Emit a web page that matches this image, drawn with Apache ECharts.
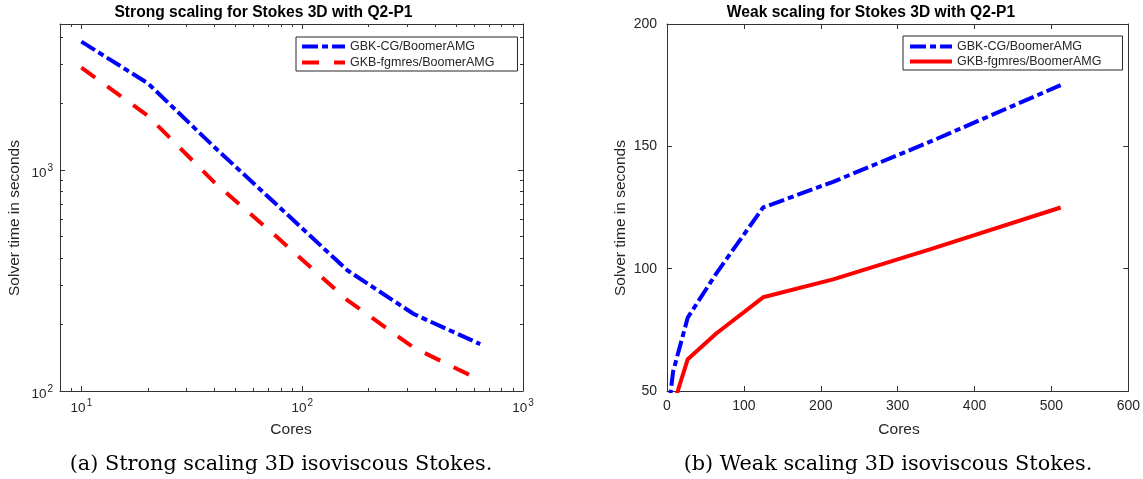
<!DOCTYPE html>
<html><head><meta charset="utf-8">
<script src="https://cdn.jsdelivr.net/npm/echarts@6/dist/echarts.min.js"></script>
<style>html,body{margin:0;padding:0;background:#fff}#c{width:1143px;height:479px}</style>
</head><body><div id="c"></div>
<script>
// ---- data ----
const strongCores = [10, 20, 40, 80, 160, 320, 640];
const strongGbkCg = [3810, 2470, 1270, 670, 352, 223, 163];
const strongGkbFgmres = [2910, 1760, 880, 480, 258, 157, 112];
const weakCores = [1, 8, 27, 64, 125, 216, 343, 512];
const weakGbkCg = [40, 58, 80, 98, 125, 135.5, 152, 175];
const weakGkbFgmres = [30, 44, 63, 73.5, 88.3, 95.6, 108, 125];
// ---- ticks ----
const strongXMajor = [10, 100, 1000];
const strongXMinor = [9, 20, 30, 40, 50, 60, 70, 80, 90, 200, 300, 400, 500, 600, 700, 800, 900];
const strongYMajor = [100, 1000];
const strongYMinor = [200, 300, 400, 500, 600, 700, 800, 900, 2000, 3000, 4000];
// ---- text ----
const seriesNames = ['GBK-CG/BoomerAMG', 'GKB-fgmres/BoomerAMG'];
const titles = ['Strong scaling for Stokes 3D with Q2-P1', 'Weak scaling for Stokes 3D with Q2-P1'];
const xName = 'Cores';
const yName = 'Solver time in seconds';
const captions = ['(a) Strong scaling 3D isoviscous Stokes.', '(b) Weak scaling 3D isoviscous Stokes.'];

const SANS = 'Liberation Sans';
const AX = '#333333';
const TXT = '#262626';
const BLUE = '#0000FF', RED = '#FF0000';
const DASHDOT = [16, 4, 6, 4];
const DASHED = [17, 15];

function logFmt(v) {
  const e = Math.log10(v);
  if (Math.abs(e - Math.round(e)) > 1e-6) return '';
  return '{b|10}{s|' + Math.round(e) + '}';
}
const logRich = {
  b: { fontFamily: SANS, fontSize: 13.5, color: TXT, lineHeight: 14, padding: [6, 0, 0, 0] },
  s: { fontFamily: SANS, fontSize: 10, color: TXT, lineHeight: 10, verticalAlign: 'top', padding: [0, 0, 0, 1] }
};

function axisBase(extra) {
  return Object.assign({
    splitLine: { show: false },
    axisLine: { show: true, onZero: false, lineStyle: { color: AX, width: 1 } },
    axisTick: { show: true, inside: true, length: 5, lineStyle: { color: AX, width: 1 } },
    axisLabel: { show: false },
  }, extra);
}

const grids = [
  { left: 60, top: 24, width: 463, height: 367 },
  { left: 667, top: 24, width: 464, height: 367 }
];

const xAxes = [
  // left plot
  axisBase({ gridIndex: 0, type: 'log', min: 8, max: 1000, position: 'bottom',
    axisTick: { show: true, inside: true, length: 5, customValues: strongXMajor, lineStyle: { color: AX } },
    axisLabel: { show: true, customValues: strongXMajor, formatter: logFmt, rich: logRich, margin: 7 } }),
  axisBase({ gridIndex: 0, type: 'log', min: 8, max: 1000, position: 'bottom',
    axisLine: { show: false },
    axisTick: { show: true, inside: true, length: 3, customValues: strongXMinor, lineStyle: { color: AX } } }),
  axisBase({ gridIndex: 0, type: 'log', min: 8, max: 1000, position: 'top',
    axisTick: { show: true, inside: true, length: 5, customValues: strongXMajor, lineStyle: { color: AX } } }),
  axisBase({ gridIndex: 0, type: 'log', min: 8, max: 1000, position: 'top',
    axisLine: { show: false },
    axisTick: { show: true, inside: true, length: 3, customValues: strongXMinor, lineStyle: { color: AX } } }),
  // right plot
  axisBase({ gridIndex: 1, type: 'value', min: 0, max: 600, interval: 100, position: 'bottom',
    axisLabel: { show: true, fontFamily: SANS, fontSize: 14, color: TXT, margin: 8 } }),
  axisBase({ gridIndex: 1, type: 'value', min: 0, max: 600, interval: 100, position: 'top' })
];

const yAxes = [
  axisBase({ gridIndex: 0, type: 'log', min: 100, max: 4580, position: 'left',
    axisTick: { show: true, inside: true, length: 5, customValues: strongYMajor, lineStyle: { color: AX } },
    axisLabel: { show: true, customValues: strongYMajor, formatter: logFmt, rich: logRich, margin: 7 } }),
  axisBase({ gridIndex: 0, type: 'log', min: 100, max: 4580, position: 'left',
    axisLine: { show: false },
    axisTick: { show: true, inside: true, length: 3, customValues: strongYMinor, lineStyle: { color: AX } } }),
  axisBase({ gridIndex: 0, type: 'log', min: 100, max: 4580, position: 'right',
    axisTick: { show: true, inside: true, length: 5, customValues: strongYMajor, lineStyle: { color: AX } } }),
  axisBase({ gridIndex: 0, type: 'log', min: 100, max: 4580, position: 'right',
    axisLine: { show: false },
    axisTick: { show: true, inside: true, length: 3, customValues: strongYMinor, lineStyle: { color: AX } } }),
  axisBase({ gridIndex: 1, type: 'value', min: 50, max: 200, interval: 50, position: 'left',
    axisLabel: { show: true, fontFamily: SANS, fontSize: 14, color: TXT, margin: 10 } }),
  axisBase({ gridIndex: 1, type: 'value', min: 50, max: 200, interval: 50, position: 'right' })
];

function pairs(xs, ys) { return xs.map((x, i) => [x, ys[i]]); }

function lineSeries(id, name, xi, yi, data, color, dash) {
  return {
    id: id, name: name, type: 'line', xAxisIndex: xi, yAxisIndex: yi,
    data: data, symbol: 'none', showSymbol: false, clip: true, animation: false,
    lineStyle: { color: color, width: 4, type: dash },
    itemStyle: { color: color }
  };
}

const series = [
  lineSeries('s1', 'strong:' + seriesNames[0], 0, 0, pairs(strongCores, strongGbkCg), BLUE, DASHDOT),
  lineSeries('s2', 'strong:' + seriesNames[1], 0, 0, pairs(strongCores, strongGkbFgmres), RED, DASHED),
  lineSeries('w1', 'weak:' + seriesNames[0], 4, 4, pairs(weakCores, weakGbkCg), BLUE, DASHDOT),
  lineSeries('w2', 'weak:' + seriesNames[1], 4, 4, pairs(weakCores, weakGkbFgmres), RED, 'solid')
];

function legend(prefix, left, top, itemWidth, itemGap, padding) {
  return {
    data: seriesNames.map(n => prefix + n),
    formatter: n => n.slice(prefix.length),
    orient: 'vertical', left: left, top: top,
    itemWidth: itemWidth, itemHeight: 14, itemGap: itemGap,
    padding: padding, borderColor: '#262626', borderWidth: 1, backgroundColor: '#fff',
    selectedMode: false,
    itemStyle: { opacity: 0 },
    lineStyle: { width: 4 },
    textStyle: { fontFamily: SANS, fontSize: 12.5, color: TXT }
  };
}

function txt(x, y, text, font, fill, opts) {
  return Object.assign({
    type: 'text', x: x, y: y, silent: true,
    style: { text: text, font: font, fill: fill, textAlign: 'center', textVerticalAlign: 'middle', align: 'center', verticalAlign: 'middle' }
  }, opts || {});
}

const LABF = '15.5px "Liberation Sans"';
const TITF = 'bold 15.6px "Liberation Sans"';
const CAPF = '20.8px "DejaVu Serif"';

const option = {
  backgroundColor: '#fff',
  animation: false,
  grid: grids,
  xAxis: xAxes,
  yAxis: yAxes,
  series: series,
  legend: [
    legend('strong:', 296, 37, 43, 3, [3, 23, 2, 4]),
    legend('weak:', 903, 36, 42, 2, [4, 21, 2, 5])
  ],
  graphic: [
    txt(263.5, 13, titles[0], TITF, '#000'),
    txt(871, 13, titles[1], TITF, '#000'),
    txt(291, 430, xName, LABF, TXT),
    txt(899, 430, xName, LABF, TXT),
    txt(15, 218, yName, LABF, TXT, { rotation: Math.PI / 2 }),
    txt(621, 218, yName, LABF, TXT, { rotation: Math.PI / 2 }),
    txt(281, 465, captions[0], CAPF, '#000'),
    txt(888, 465, captions[1], CAPF, '#000')
  ]
};

const chart = echarts.init(document.getElementById('c'), null, { renderer: 'canvas' });
chart.setOption(option);
</script>
</body></html>
